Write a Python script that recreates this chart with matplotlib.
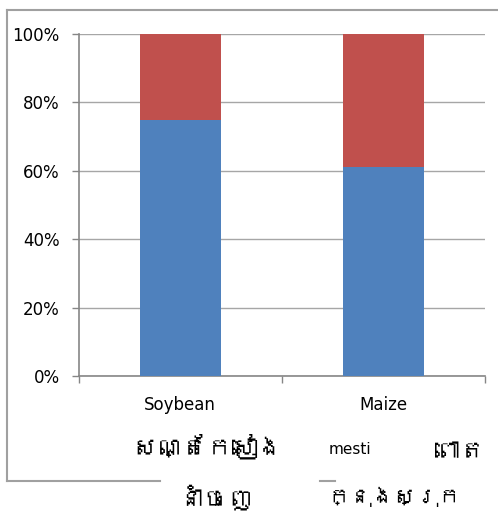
import matplotlib
matplotlib.use("Agg")
import matplotlib.pyplot as plt
from matplotlib import font_manager
from matplotlib.lines import Line2D
from matplotlib.ticker import FuncFormatter

# ---- data ----
categories = ["Soybean", "Maize"]
blue_share = [75, 61]      # %
red_share = [25, 39]       # %
yticks = [0, 20, 40, 60, 80, 100]
khmer_labels = ["សណ្តែកសៀង", "នាំចេញ", "ពោត", "ក្នុងស្រុក"]
extra_label = "mesti"

# ---- fonts: look for a family with Khmer glyphs ----
khmer_family = None
try:
    from matplotlib.ft2font import FT2Font
    for fe in font_manager.fontManager.ttflist:
        try:
            f = FT2Font(fe.fname)
            if f.get_char_index(0x179F) and f.get_char_index(0x178E):
                khmer_family = fe.name
                break
        except Exception:
            pass
except Exception:
    pass
kfam = ([khmer_family] if khmer_family else []) + ["DejaVu Sans"]
plt.rcParams["font.family"] = ["DejaVu Sans"]

W, H = 498, 512
fig = plt.figure(figsize=(W / 100, H / 100), dpi=100)
fig.patch.set_facecolor("white")

def fx(px):
    return px / W

def fy(py):
    return 1 - py / H

ax = fig.add_axes([fx(79), fy(376), fx(485) - fx(79), fy(34) - fy(376)])
x = range(len(categories))
blue = "#4F81BD"
red = "#C0504D"
ax.bar(x, blue_share, width=0.4, color=blue, zorder=3)
ax.bar(x, red_share, bottom=blue_share, width=0.4, color=red, zorder=3)
ax.set_xlim(-0.5, len(categories) - 0.5)
ax.set_ylim(0, 100)
ax.set_yticks(yticks)
ax.yaxis.set_major_formatter(FuncFormatter(lambda v, p: f"{int(v)}%"))
ax.grid(axis="y", color="#A6A6A6", linewidth=1.0, zorder=0)
ax.set_xticks([-0.5, 0.5, 1.5])
ax.set_xticklabels([])
ax.tick_params(axis="x", direction="out", length=5, color="#868686", width=1)
ax.tick_params(axis="y", direction="out", length=5, color="#868686", width=1,
               labelsize=12, pad=9)
for s in ["top", "right"]:
    ax.spines[s].set_visible(False)
for s in ["left", "bottom"]:
    ax.spines[s].set_color("#868686")
    ax.spines[s].set_linewidth(1.2)

# category labels (below each bar)
cat_x_px = [180, 383]
for c, px in zip(categories, cat_x_px):
    fig.text(fx(px), fy(405), c, ha="center", va="center", fontsize=12)

# Khmer labels and overlapping text
fig.text(fx(207), fy(446), khmer_labels[0], ha="center", va="center", fontsize=18, family=kfam)
fig.text(fx(216), fy(497), khmer_labels[1], ha="center", va="center", fontsize=18, family=kfam)
fig.text(fx(460), fy(452), khmer_labels[2], ha="center", va="center", fontsize=18, family=kfam)
fig.text(fx(394), fy(497), khmer_labels[3], ha="center", va="center", fontsize=16, family=kfam)
fig.text(fx(350), fy(449), extra_label, ha="center", va="center", fontsize=11)

# chart-area border (partially hidden by labels)
bc = "#A0A0A0"
segs = [((7, 10), (498, 10)), ((7, 10), (7, 481)), ((7, 481), (160, 481)), ((320, 481), (335, 481))]
for (x0, y0), (x1, y1) in segs:
    fig.add_artist(Line2D([fx(x0), fx(x1)], [fy(y0), fy(y1)], color=bc, linewidth=1.5,
                          transform=fig.transFigure))

fig.savefig("out.png", dpi=100, facecolor="white")
